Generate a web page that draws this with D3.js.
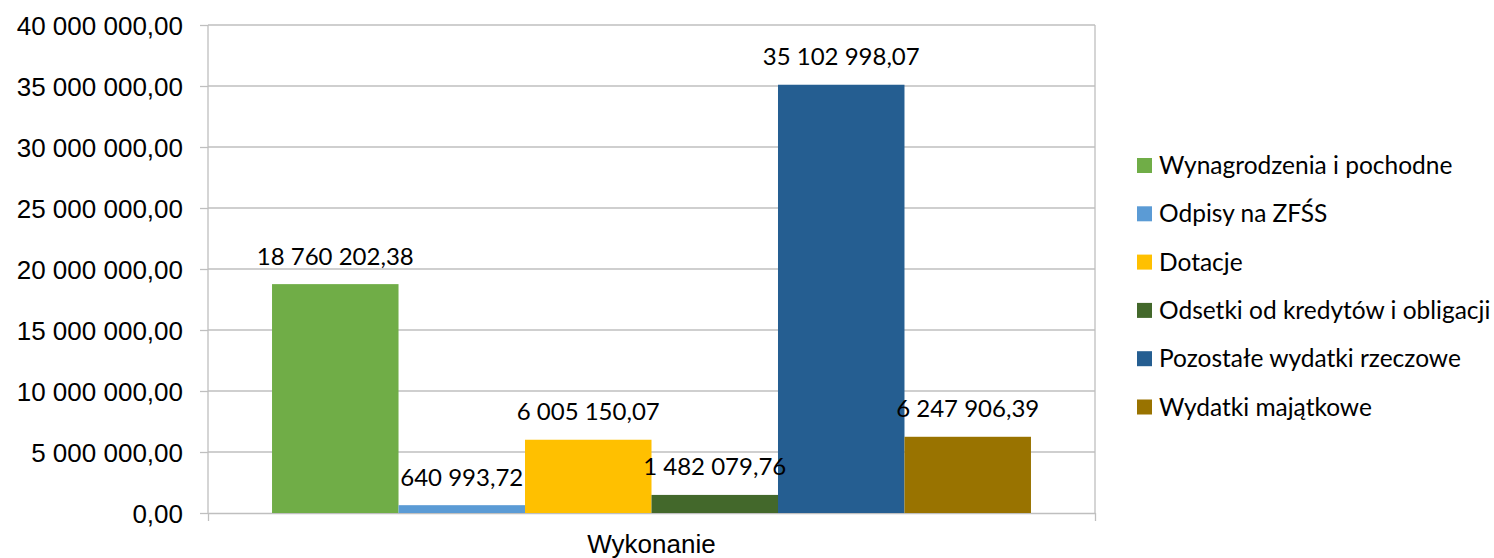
<!DOCTYPE html>
<html>
<head>
<meta charset="utf-8">
<script src="https://cdn.jsdelivr.net/npm/d3@7"></script>
<style>
  html, body { margin: 0; padding: 0; background: #fff; }
  svg { display: block; }
</style>
</head>
<body>
<svg id="chart" width="1494" height="558"></svg>
<script>
const categories = ["Wykonanie"];
const seriesNames = ["Wynagrodzenia i pochodne", "Odpisy na ZFŚS", "Dotacje", "Odsetki od kredytów i obligacji", "Pozostałe wydatki rzeczowe", "Wydatki majątkowe"];
const seriesValues = [18760202.38, 640993.72, 6005150.07, 1482079.76, 35102998.07, 6247906.39];
const seriesColors = ["#70ad47", "#5b9bd5", "#ffc000", "#43682b", "#255e91", "#997300"];
const yTicks = [0, 5000000, 10000000, 15000000, 20000000, 25000000, 30000000, 35000000, 40000000];

const locale = d3.formatLocale({ decimal: ",", thousands: "\u00a0", grouping: [3], currency: ["", " zł"] });
const fmt = locale.format(",.2f");

const svg = d3.select("#chart");
const pLeft = 208, pRight = 1095, pTop = 25, pBottom = 513;

const y = d3.scaleLinear().domain([0, 40000000]).range([pBottom, pTop]);
const x0 = d3.scaleBand().domain(categories).range([pLeft, pRight]).padding(0.0778);
const x1 = d3.scaleBand().domain(seriesNames).range([0, x0.bandwidth()]).padding(0);

const gridColor = "#bfbfbf";

// gridlines
svg.append("g").selectAll("line").data(yTicks.filter(d => d > 0)).join("line")
  .attr("x1", pLeft).attr("x2", pRight)
  .attr("y1", d => y(d)).attr("y2", d => y(d))
  .attr("stroke", gridColor).attr("stroke-width", 1.3);

// y axis
const yAxis = d3.axisLeft(y).tickValues(yTicks).tickFormat(fmt).tickSize(8).tickPadding(17);
const gy = svg.append("g").attr("transform", `translate(${pLeft},0)`).call(yAxis);
gy.select(".domain").attr("stroke", gridColor).attr("stroke-width", 1.3).attr("d", `M0,${pTop}V${pBottom}`);
gy.selectAll(".tick line").attr("stroke", gridColor).attr("stroke-width", 1.3);
gy.selectAll(".tick text").attr("fill", "#000").attr("dy", "0.35em")
  .style("font-family", "'Liberation Sans', Arial, sans-serif").style("font-size", "26px");

// right border
svg.append("line").attr("x1", pRight).attr("x2", pRight).attr("y1", pTop).attr("y2", pBottom)
  .attr("stroke", gridColor).attr("stroke-width", 1.3);

// x axis
const xAxis = d3.axisBottom(d3.scaleLinear().domain([0, 1]).range([pLeft, pRight])).tickValues([0, 1]).tickFormat("").tickSize(8).tickSizeOuter(0);
const gx = svg.append("g").attr("transform", `translate(0,${pBottom})`).call(xAxis);
gx.select(".domain").attr("stroke", gridColor).attr("stroke-width", 1.3);
gx.selectAll(".tick line").attr("stroke", gridColor).attr("stroke-width", 1.3);

svg.append("g").selectAll("text").data(categories).join("text")
  .attr("x", d => x0(d) + x0.bandwidth() / 2).attr("y", 553)
  .attr("text-anchor", "middle")
  .style("font-family", "'Liberation Sans', Arial, sans-serif").style("font-size", "26px")
  .text(d => d);

// bars
const data = seriesNames.map((s, i) => ({ cat: categories[0], name: s, value: seriesValues[i], color: seriesColors[i] }));
svg.append("g").selectAll("rect").data(data).join("rect")
  .attr("x", d => x0(d.cat) + x1(d.name))
  .attr("width", x1.bandwidth())
  .attr("y", d => y(d.value))
  .attr("height", d => y(0) - y(d.value))
  .attr("fill", d => d.color);

// data labels
svg.append("g").selectAll("text").data(data).join("text")
  .attr("x", d => x0(d.cat) + x1(d.name) + x1.bandwidth() / 2)
  .attr("y", d => y(d.value) - 19.5)
  .attr("text-anchor", "middle")
  .style("font-family", "Lato, 'Open Sans', sans-serif").style("font-size", "24px")
  .text(d => fmt(d.value));

// legend
const lg = svg.append("g");
const ly = d3.scalePoint().domain(seriesNames).range([165.5, 407]);
const items = lg.selectAll("g").data(data).join("g").attr("transform", d => `translate(1137,${ly(d.name)})`);
items.append("rect").attr("x", 0).attr("y", -7.5).attr("width", 15).attr("height", 15).attr("fill", d => d.color);
items.append("text").attr("x", 22).attr("y", 0).attr("dy", "0.35em")
  .style("font-family", "Lato, 'Open Sans', sans-serif").style("font-size", "24.5px")
  .text(d => d.name);
</script>
</body>
</html>
